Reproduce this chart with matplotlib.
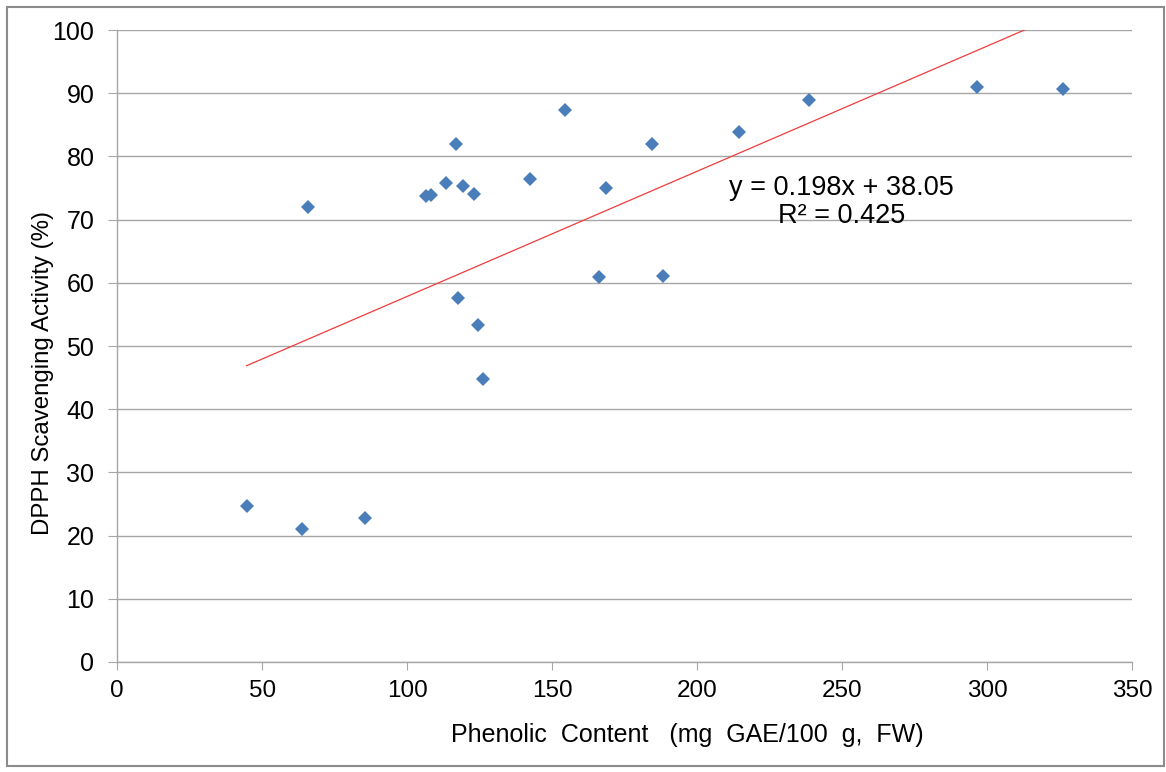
import numpy as np
import matplotlib
matplotlib.use("Agg")
from matplotlib import pyplot as plt
from matplotlib.patches import Rectangle

plt.rcParams['font.family'] = ['Liberation Sans', 'DejaVu Sans']

# phenolic content (mg GAE/100 g, FW) vs DPPH scavenging activity (%)
phenolic = [44.6, 63.6, 85.5, 65.9, 106.4, 108.1, 113.3, 116.8, 117.6,
            119.3, 123.0, 124.5, 126.0, 142.5, 154.4, 166.0, 168.6, 184.5,
            188.3, 214.6, 238.5, 296.6, 326.1]
dpph = [24.7, 21.0, 22.8, 72.0, 73.7, 73.9, 75.8, 82.0, 57.6,
        75.3, 74.05, 53.3, 44.8, 76.4, 87.3, 60.9, 75.0, 82.0,
        61.0, 83.9, 89.0, 91.0, 90.6]

slope = 0.198
intercept = 38.05
r_squared = 0.425

x_ticks = [0, 50, 100, 150, 200, 250, 300, 350]
y_ticks = [0, 10, 20, 30, 40, 50, 60, 70, 80, 90, 100]

fig = plt.figure(figsize=(11.66, 7.72), dpi=100)
ax = fig.add_axes([0.1006, 0.1425, 0.8702, 0.8186])

grid_color = "#A6A6A6"
ax.set_axisbelow(True)
ax.yaxis.grid(True, color=grid_color, linewidth=1.0)

x = np.array(phenolic)
xs = np.array([x.min(), x.max()])
ax.plot(xs, slope * xs + intercept, color="#F03C3C", linewidth=0.9)

ax.plot(phenolic, dpph, linestyle="none", marker="D", markersize=6.8,
        color="#4A7EBB", markeredgewidth=0)

ax.set_xlim(0, 350)
ax.set_ylim(0, 100)
ax.set_xticks(x_ticks)
ax.set_yticks(y_ticks)
ax.tick_params(axis="x", labelsize=17.5, direction="out", length=6,
               color=grid_color, pad=7)
ax.tick_params(axis="y", labelsize=18, direction="out", length=6.5,
               color=grid_color, pad=10)

for side in ["top", "right"]:
    ax.spines[side].set_visible(False)
for side in ["left", "bottom"]:
    ax.spines[side].set_color(grid_color)
    ax.spines[side].set_linewidth(1.0)

ax.set_xlabel("Phenolic  Content   (mg  GAE/100  g,  FW)", fontsize=18)
ax.xaxis.set_label_coords(0.562, -0.097)
ax.set_ylabel("DPPH Scavenging Activity (%)", fontsize=17.3)
ax.yaxis.set_label_coords(-0.062, 0.457)

ax.text(0.714, 0.728,
        f"y = {slope}x + {intercept}\nR² = {r_squared}",
        transform=ax.transAxes, ha="center", va="center", fontsize=19.5,
        linespacing=1.13, multialignment="center")

fig.patches.append(Rectangle((0.006, 0.008), 0.992, 0.983,
                             transform=fig.transFigure, fill=False,
                             edgecolor="#8C8C8C", linewidth=1.5))

fig.savefig("out.png", dpi=100)
